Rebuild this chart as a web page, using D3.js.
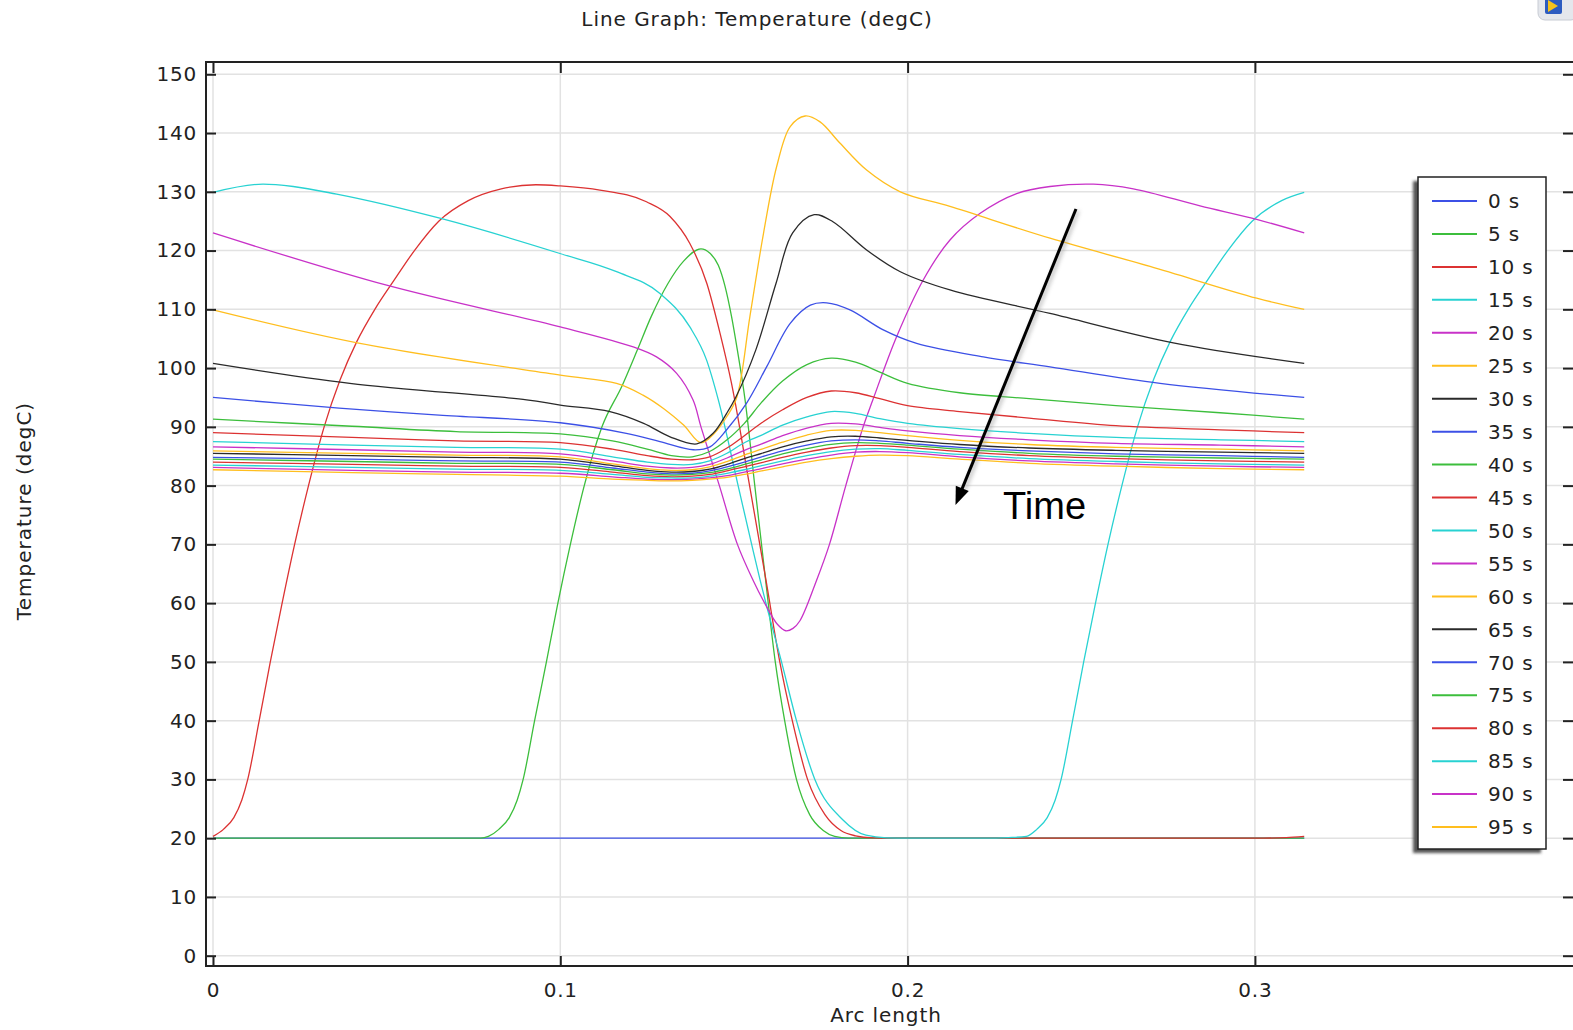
<!DOCTYPE html>
<html><head><meta charset="utf-8">
<script src="https://cdn.jsdelivr.net/npm/d3@7"></script>
<style>html,body{margin:0;padding:0;background:#fff;} svg{display:block;}</style>
</head><body>
<svg id="chart" width="1573" height="1030"></svg>
<script>
// ---------------- DATA ----------------
const timeLabels = ["0 s","5 s","10 s","15 s","20 s","25 s","30 s","35 s","40 s","45 s","50 s","55 s","60 s","65 s","70 s","75 s","80 s","85 s","90 s","95 s"];
const palette = ["#3c50e6","#3cbe3c","#dc3232","#28d2d2","#c832c8","#ffbe1e","#2a2a2a"];
const xTicks = [0, 0.1, 0.2, 0.3];
const xTickLabels = ["0", "0.1", "0.2", "0.3"];
const yTicks = [0,10,20,30,40,50,60,70,80,90,100,110,120,130,140,150];

// [arc length, temperature] pairs
const t00 = [[0,20],[0.3142,20]];
const t05 = [[0,20],[0.077,20],[0.0793,20.3],[0.0823,21.5],[0.0853,23.5],[0.0876,26.5],[0.0893,30],[0.0926,40],[0.096,50],[0.0993,60],[0.1029,70],[0.1069,80],[0.112,90],[0.1178,97],[0.1222,103.1],[0.1262,108.8],[0.131,114.4],[0.1355,118.2],[0.1405,120.3],[0.143,119.6],[0.1455,117.5],[0.1474,114],[0.1493,108.8],[0.151,103],[0.1532,94.6],[0.156,80],[0.1591,64],[0.1619,50],[0.1646,40],[0.168,30],[0.1718,24],[0.1757,21.3],[0.179,20.3],[0.183,20],[0.3142,20]];
const t10 = [[0,20.3],[0.003,21.5],[0.006,23.5],[0.0083,26.5],[0.01,30],[0.0133,40],[0.0165,50],[0.0199,60],[0.0235,70],[0.0275,80],[0.032,90],[0.0366,98],[0.0414,104.5],[0.0466,110],[0.0522,115],[0.058,120],[0.065,125],[0.0735,128.5],[0.083,130.5],[0.093,131.2],[0.1,131.0],[0.1114,130.3],[0.1248,128.3],[0.1316,125.8],[0.1373,121.2],[0.1422,114.4],[0.146,105.9],[0.1493,97.4],[0.1545,80],[0.1592,64],[0.1632,50],[0.1668,40],[0.1712,30],[0.1762,24],[0.1808,21.3],[0.185,20.4],[0.19,20.05],[0.195,20],[0.3,20],[0.309,20.1],[0.3142,20.3]];
const t15 = [[0,129.9],[0.0144,131.3],[0.0231,130.9],[0.0356,129.6],[0.0653,125.5],[0.0999,119.5],[0.1162,116.4],[0.1287,112.7],[0.1373,107.0],[0.1421,101.4],[0.1455,94.6],[0.1512,80],[0.1551,70],[0.1575,64],[0.1592,60],[0.1637,50],[0.168,40],[0.1733,30],[0.1814,23.1],[0.188,20.5],[0.194,20.05],[0.2,20],[0.222,20],[0.229,20.1],[0.2342,20.3],[0.2372,21.5],[0.2402,23.5],[0.2425,26.5],[0.2442,30],[0.2475,40],[0.2507,50],[0.2541,60],[0.2577,70],[0.2617,80],[0.2662,90],[0.2708,98],[0.2756,104.5],[0.2808,110],[0.2864,115],[0.2922,120],[0.2992,125],[0.3077,128.5],[0.3142,129.9]];
const t20 = [[0,123.0],[0.05,114.1],[0.1,107.0],[0.121,103.6],[0.1277,101.9],[0.1335,99.1],[0.1382,94.6],[0.1405,90],[0.1458,80],[0.151,70],[0.1555,63.9],[0.1594,59.4],[0.1625,56.4],[0.1649,55.3],[0.167,55.7],[0.169,57.0],[0.1738,63.9],[0.1775,70],[0.1822,80],[0.1872,90],[0.19,94.6],[0.1968,105.3],[0.2045,115.0],[0.2122,121.8],[0.2208,126.3],[0.2314,129.7],[0.241,130.9],[0.2535,131.3],[0.265,130.5],[0.2842,127.6],[0.3005,125.3],[0.3142,123.0]];
const t25 = [[0,109.9],[0.0423,104.2],[0.1,98.8],[0.1162,97.4],[0.1238,95.4],[0.13,93.0],[0.1355,90.3],[0.1405,87.3],[0.1445,89.0],[0.148,91.8],[0.1508,95.0],[0.1546,108.8],[0.1585,122.9],[0.1623,134.3],[0.1662,141.1],[0.1705,142.9],[0.1748,141.9],[0.1805,138.3],[0.1882,133.7],[0.1979,130.0],[0.2122,127.5],[0.241,122.1],[0.2698,117.3],[0.3005,111.9],[0.3142,110.0]];
const t30 = [[0,100.8],[0.0394,97.4],[0.0903,94.6],[0.1,93.7],[0.1143,92.6],[0.124,90.6],[0.1316,88.3],[0.1393,87.1],[0.144,88.9],[0.1479,92.3],[0.1505,95.0],[0.1563,103.1],[0.1621,114.4],[0.1669,123.0],[0.1731,126.1],[0.1785,124.9],[0.1882,120.1],[0.1979,116.4],[0.2122,113.3],[0.241,109.3],[0.2765,104.3],[0.3142,100.8]];
const t35 = [[0,95.0],[0.0363,93.2],[0.0651,92.0],[0.1,90.7],[0.119,88.9],[0.1287,87.5],[0.1383,86.1],[0.1431,86.6],[0.1479,89.5],[0.1536,94.0],[0.1594,100.2],[0.1662,107.6],[0.172,110.7],[0.1767,111.1],[0.1834,109.9],[0.193,106.5],[0.2026,104.2],[0.2218,101.9],[0.241,100.2],[0.2727,97.4],[0.3142,95.0]];

// later profiles share one arc-length grid
const bandArc = [0,0.04,0.07,0.1,0.115,0.125,0.132,0.138,0.143,0.148,0.153,0.158,0.164,0.171,0.178,0.185,0.192,0.2,0.215,0.235,0.26,0.29,0.3142];
const t40 = [91.3,90.1,89.2,88.8,87.6,86.2,85.1,84.9,85.8,87.8,90.6,94.2,97.8,100.6,101.7,101.0,99.3,97.4,95.8,94.8,93.6,92.4,91.3];
const t45 = [89.0,88.2,87.6,87.3,86.2,85.1,84.5,84.4,84.9,86.4,88.5,90.7,92.9,95.0,96.1,95.8,94.8,93.6,92.6,91.5,90.2,89.5,89.0];
const t50 = [87.5,86.9,86.5,86.2,84.9,84.0,83.6,83.6,84.2,85.5,87.3,88.6,90.3,91.7,92.6,92.3,91.4,90.6,89.7,88.9,88.2,87.8,87.5];
const t55 = [86.6,86.1,85.7,85.4,84.2,83.3,83.0,83.1,83.6,84.7,86.0,87.1,88.5,89.8,90.6,90.5,89.9,89.3,88.5,87.8,87.2,86.9,86.6];
const t60 = [85.9,85.5,85.2,84.9,83.7,82.9,82.6,82.7,83.2,84.1,85.2,86.2,87.4,88.6,89.4,89.4,89.0,88.5,87.7,87.0,86.5,86.2,85.9];
const t65 = [85.5,85.1,84.8,84.5,83.4,82.6,82.3,82.4,82.8,83.6,84.6,85.5,86.6,87.6,88.3,88.4,88.1,87.7,87.0,86.4,86.0,85.7,85.5];
const t70 = [84.8,84.5,84.2,84.0,83.0,82.3,82.0,82.1,82.5,83.2,84.0,84.9,85.9,86.9,87.6,87.8,87.6,87.2,86.5,85.9,85.4,85.1,84.8];
const t75 = [84.5,84.1,83.8,83.6,82.7,82.0,81.8,81.9,82.2,82.8,83.6,84.4,85.4,86.3,87.0,87.3,87.2,86.9,86.2,85.5,85.0,84.7,84.5];
const t80 = [84.0,83.6,83.3,83.1,82.3,81.7,81.5,81.6,81.9,82.5,83.2,83.9,84.8,85.7,86.4,86.8,86.8,86.5,85.8,85.1,84.6,84.2,84.0];
const t85 = [83.5,83.1,82.8,82.6,81.9,81.4,81.3,81.3,81.6,82.1,82.7,83.4,84.2,85.1,85.8,86.2,86.3,86.0,85.3,84.6,84.1,83.7,83.5];
const t90 = [83.1,82.6,82.3,82.1,81.5,81.1,81.0,81.1,81.3,81.7,82.3,82.9,83.7,84.5,85.2,85.7,85.8,85.6,84.9,84.2,83.7,83.3,83.1];
const t95 = [82.7,82.2,81.9,81.6,81.1,80.9,80.8,80.9,81.1,81.4,81.9,82.5,83.2,84.0,84.6,85.0,85.2,85.1,84.5,83.8,83.3,82.9,82.7];

const pairProfiles = [t00,t05,t10,t15,t20,t25,t30,t35];
const bandProfiles = [t40,t45,t50,t55,t60,t65,t70,t75,t80,t85,t90,t95];

// ---------------- CHART ----------------
const svg = d3.select("#chart");
svg.append("rect").attr("width",1573).attr("height",1030).attr("fill","#fff");
const P = {left:206, top:62, right:1574, bottom:966};
const x = d3.scaleLinear().domain([-0.002016, 0.39188]).range([P.left, P.right]);
const y = d3.scaleLinear().domain([-1.753, 152.09]).range([P.bottom, P.top]);
const FONT = "DejaVu Sans, Verdana, sans-serif";

const defs = svg.append("defs");
defs.append("clipPath").attr("id","clip").append("rect")
  .attr("x",P.left).attr("y",P.top).attr("width",P.right-P.left).attr("height",P.bottom-P.top);
const blur = defs.append("filter").attr("id","shadow").attr("x","-20%").attr("y","-20%").attr("width","140%").attr("height","140%");
blur.append("feGaussianBlur").attr("stdDeviation",1.6);
const ablur = defs.append("filter").attr("id","ashadow").attr("x","-50%").attr("y","-50%").attr("width","200%").attr("height","200%");
ablur.append("feGaussianBlur").attr("stdDeviation",2);

// grid
const grid = svg.append("g").attr("stroke","#e2e2e2").attr("stroke-width",1.5);
grid.selectAll("line.h").data(yTicks).join("line").attr("class","h")
  .attr("x1",P.left).attr("x2",P.right).attr("y1",d=>y(d)).attr("y2",d=>y(d));
grid.selectAll("line.v").data(xTicks).join("line").attr("class","v")
  .attr("y1",P.top).attr("y2",P.bottom).attr("x1",d=>x(d)).attr("x2",d=>x(d));

// series
const series = pairProfiles.map(a => a.map(p => ({a:p[0], t:p[1]})))
  .concat(bandProfiles.map(vals => vals.map((v,i) => ({a:bandArc[i], t:v}))));
const lineMono = d3.line().x(d=>x(d.a)).y(d=>y(d.t)).curve(d3.curveMonotoneX);
const lineSmooth = d3.line().x(d=>x(d.a)).y(d=>y(d.t)).curve(d3.curveCatmullRom.alpha(0.5));
svg.append("g").attr("clip-path","url(#clip)")
  .selectAll("path").data(series).join("path")
  .attr("d", (d,i) => i < 4 ? lineMono(d) : lineSmooth(d)).attr("fill","none")
  .attr("stroke",(d,i)=>palette[i%7]).attr("stroke-width",1.3)
  .attr("stroke-linejoin","round");

// axes (ticks inward)
function styleAxis(g){
  g.select(".domain").remove();
  g.selectAll(".tick line").attr("stroke","#222").attr("stroke-width",2);
  g.selectAll("text").attr("font-family",FONT).attr("font-size",20).attr("fill","#222").attr("letter-spacing",0.8);
}
svg.append("g").attr("transform",`translate(${P.left},0)`)
  .call(d3.axisLeft(y).tickValues(yTicks).tickSize(-10).tickPadding(9).tickFormat(d3.format("d")))
  .call(styleAxis);
svg.append("g").attr("transform",`translate(0,${P.bottom})`)
  .call(d3.axisBottom(x).tickValues(xTicks).tickSize(-10).tickPadding(17).tickFormat((d,i)=>xTickLabels[i]))
  .call(styleAxis);
svg.append("g").attr("transform",`translate(0,${P.top})`)
  .call(d3.axisTop(x).tickValues(xTicks).tickSize(-11).tickFormat(""))
  .call(styleAxis);
svg.append("g").attr("transform",`translate(${P.right},0)`)
  .call(d3.axisRight(y).tickValues(yTicks).tickSize(-11).tickFormat(""))
  .call(styleAxis);

// frame
svg.append("rect").attr("x",P.left).attr("y",P.top).attr("width",P.right-P.left).attr("height",P.bottom-P.top)
  .attr("fill","none").attr("stroke","#222").attr("stroke-width",2);

// titles
svg.append("text").attr("x",757).attr("y",26).attr("text-anchor","middle")
  .attr("font-family",FONT).attr("font-size",20).attr("letter-spacing",0.95).attr("fill","#222")
  .text("Line Graph: Temperature (degC)");
svg.append("text").attr("x",886).attr("y",1022).attr("text-anchor","middle")
  .attr("font-family",FONT).attr("font-size",20).attr("letter-spacing",0.9).attr("fill","#222")
  .text("Arc length");
svg.append("text").attr("transform","translate(31,511) rotate(-90)").attr("text-anchor","middle")
  .attr("font-family",FONT).attr("font-size",20).attr("letter-spacing",1.0).attr("fill","#222")
  .text("Temperature (degC)");

// legend
const L = {x:1418, y:177, w:128, h:672};
svg.append("rect").attr("x",L.x-5).attr("y",L.y+4).attr("width",L.w).attr("height",L.h)
  .attr("fill","#555").attr("filter","url(#shadow)");
svg.append("rect").attr("x",L.x).attr("y",L.y).attr("width",L.w).attr("height",L.h)
  .attr("fill","#fff").attr("stroke","#222").attr("stroke-width",1.5);
const leg = svg.append("g").selectAll("g").data(timeLabels).join("g")
  .attr("transform",(d,i)=>`translate(0,${201 + i*32.95})`);
leg.append("line").attr("x1",1432).attr("x2",1477).attr("y1",0).attr("y2",0)
  .attr("stroke",(d,i)=>palette[i%7]).attr("stroke-width",2);
leg.append("text").attr("x",1488).attr("y",0).attr("dy","0.36em")
  .attr("font-family",FONT).attr("font-size",20).attr("letter-spacing",0.8).attr("fill","#222")
  .text(d=>d);

// annotation arrow
const a0 = [1076,209], a1 = [955.5,505];
const dx = a1[0]-a0[0], dy = a1[1]-a0[1], len = Math.hypot(dx,dy);
const ux = dx/len, uy = dy/len, px = -uy, py = ux;
const headL = 18, headW = 7;
const base = [a1[0]-ux*headL, a1[1]-uy*headL];
const head = [a1, [base[0]+px*headW, base[1]+py*headW], [base[0]-px*headW, base[1]-py*headW]];
const arrowG = svg.append("g");
arrowG.append("line").attr("x1",a0[0]+2).attr("y1",a0[1]+2).attr("x2",base[0]+2).attr("y2",base[1]+2)
  .attr("stroke","#999").attr("stroke-width",3).attr("filter","url(#ashadow)").attr("opacity",0.7);
arrowG.append("line").attr("x1",a0[0]).attr("y1",a0[1]).attr("x2",base[0]+ux*2).attr("y2",base[1]+uy*2)
  .attr("stroke","#000").attr("stroke-width",3);
arrowG.append("path").attr("d", "M" + head.map(p=>p.join(",")).join("L") + "Z").attr("fill","#000");
svg.append("text").attr("x",1003).attr("y",519)
  .attr("font-family","Liberation Sans, Arial, Helvetica, sans-serif").attr("font-size",38).attr("fill","#000")
  .text("Time");

// small logo badge at top-right corner
const logo = svg.append("g");
logo.append("rect").attr("x",1538).attr("y",-8).attr("width",40).attr("height",28).attr("rx",7)
  .attr("fill","#e4e7ec").attr("stroke","#c8ccd4");
logo.append("rect").attr("x",1545).attr("y",-2).attr("width",17).attr("height",16).attr("rx",2).attr("fill","#2c5cc0");
logo.append("path").attr("d","M1548,0 L1558,6 L1548,12 Z").attr("fill","#f5c21b");
</script>
</body></html>
